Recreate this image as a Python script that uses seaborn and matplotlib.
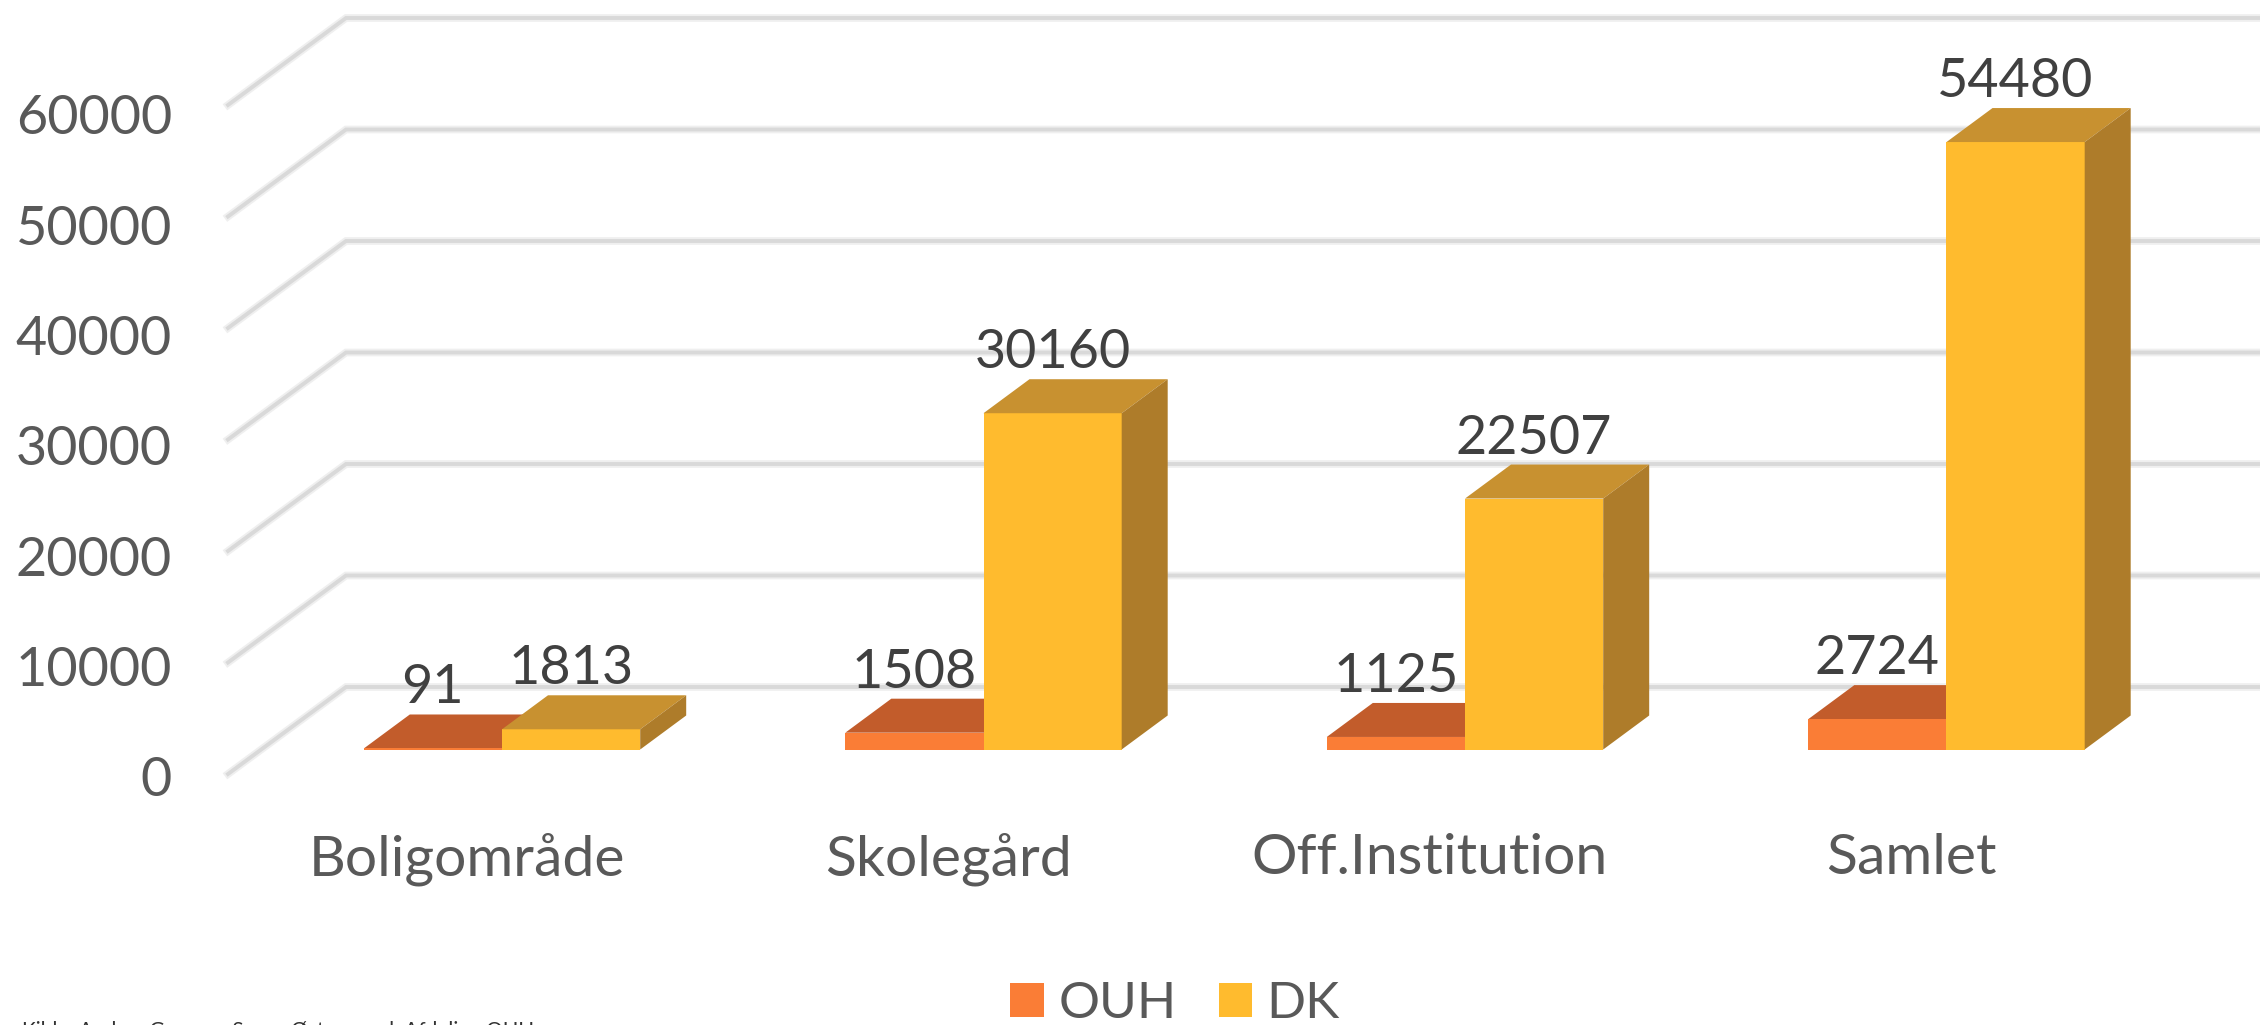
import numpy as np
import pandas as pd
import seaborn as sns
import matplotlib.pyplot as plt
from matplotlib.patches import Polygon, Patch

categories = ['Boligområde', 'Skolegård', 'Off.Institution', 'Samlet']
ouh = [91, 1508, 1125, 2724]
dk = [1813, 30160, 22507, 54480]
series_names = ['OUH', 'DK']
y_ticks = [0, 10000, 20000, 30000, 40000, 50000, 60000]
source_note = 'Kilde: Anders Grauma, Søren Østergaard, Afdeling OUH'

front_colors = {'OUH': '#FA7D36', 'DK': '#FFBB2E'}
top_colors = {'OUH': '#C25C2B', 'DK': '#C89130'}
side_colors = {'OUH': '#A9522A', 'DK': '#AE7C2A'}

W, H = 2260, 1025
# pixel scale of the picture: category spacing and value height
px_x = 481.5
px_y = 0.01115
bar_dx, bar_dy = 46 / px_x, 34 / px_y
floor_dx, floor_dy = 118 / px_x, 87 / px_y


def x_of(px):
    return (px - 502) / px_x


def y_of(py):
    return (749.5 - py) / px_y


df = pd.DataFrame({
    'category': categories * 2,
    'value': ouh + dk,
    'series': ['OUH'] * 4 + ['DK'] * 4,
})

plt.rcParams['font.family'] = ['Lato', 'DejaVu Sans']
fig = plt.figure(figsize=(W / 100, H / 100), dpi=100)
ax = fig.add_axes([0, 0, 1, 1])

sns.barplot(data=df, x='category', y='value', hue='series', hue_order=series_names,
            palette=front_colors, width=0.574, gap=0, saturation=1, legend=False,
            ax=ax, zorder=4)
ax.set_xlim(x_of(0), x_of(W))
ax.set_ylim(y_of(H), y_of(0))
ax.axis('off')

# back wall grid and the slanted lines on the side wall
front_x = x_of(228)
front_y0 = y_of(774)
for v in y_ticks:
    y_front = front_y0 + v
    for color, lw in [('#EFEFEF', 5.5), ('#D9D9D9', 2.8)]:
        ax.plot([front_x, front_x + floor_dx, x_of(W)],
                [y_front, y_front + floor_dy, y_front + floor_dy],
                color=color, lw=lw, zorder=1, solid_joinstyle='miter')
    # labels sit a little tighter than the grid
    ax.text(x_of(172), y_of(781) + v * 0.99, str(v), ha='right', va='center',
            fontsize=38.8, color='#595959')

# extrude each bar into a box
bars = [b for b in ax.patches if isinstance(b, plt.Rectangle)]
names = ['OUH'] * 4 + ['DK'] * 4
values = ouh + dk
order = np.argsort([b.get_x() for b in bars])
for i in order:
    b, name = bars[i], names[i]
    x0, x1 = b.get_x(), b.get_x() + b.get_width()
    top = b.get_height()
    ax.add_patch(Polygon([(x0, top), (x1, top), (x1 + bar_dx, top + bar_dy), (x0 + bar_dx, top + bar_dy)],
                         facecolor=top_colors[name], edgecolor='none', zorder=3 if name == 'OUH' else 5))
    ax.add_patch(Polygon([(x1, 0), (x1 + bar_dx, bar_dy), (x1 + bar_dx, top + bar_dy), (x1, top)],
                         facecolor=side_colors[name], edgecolor='none', zorder=3 if name == 'OUH' else 5))
    b.set_zorder(3.5 if name == 'OUH' else 5)
    ax.text(x0 + b.get_width() / 2 + bar_dx / 2 - 23 / px_x, top + bar_dy + 2 / px_y, str(values[i]),
            ha='center', va='bottom', fontsize=38.8, color='#404040', zorder=6)

for i, name in enumerate(categories):
    ax.text(i + x_of(467) - x_of(502), y_of(859), name, ha='center', va='center',
            fontsize=41, color='#595959')

handles = [Patch(facecolor=front_colors[n], label=n) for n in series_names]
fig.legend(handles=handles, loc='center', bbox_to_anchor=(1175 / W, 1 - 1004 / H), ncol=2, frameon=False,
           fontsize=37, labelcolor='#595959', handlelength=0.65, handleheight=0.65,
           handletextpad=0.28, columnspacing=0.82, borderpad=0)

# the source line is cut by the lower edge, as in the original
ax.text(x_of(22), y_of(1031), source_note, ha='left', va='center', fontsize=15, color='#333333')

fig.savefig('out.png', dpi=100)
